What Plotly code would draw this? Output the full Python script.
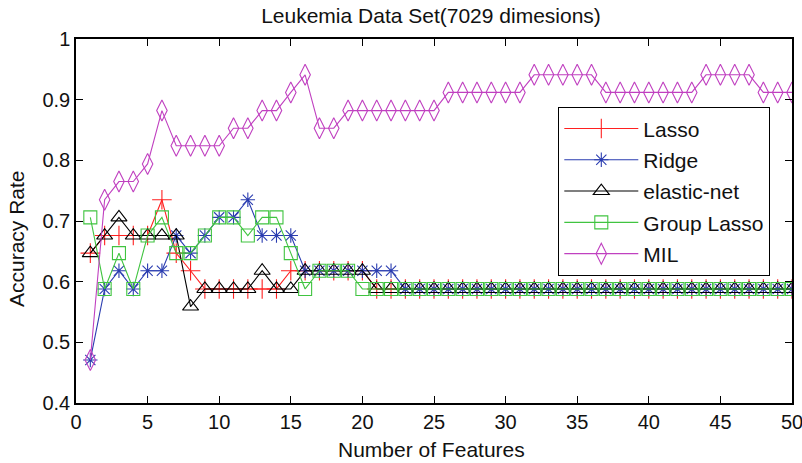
import plotly.graph_objects as go

features = list(range(1, 51))

lasso = [0.647, 0.676, 0.676, 0.676, 0.676, 0.735, 0.647, 0.618, 0.588, 0.588,
         0.588, 0.588, 0.588, 0.588, 0.618, 0.618, 0.618, 0.618, 0.618, 0.618] + [0.588] * 30

ridge = [0.471, 0.588, 0.618, 0.588, 0.618, 0.618, 0.676, 0.647, 0.676, 0.706,
         0.706, 0.735, 0.676, 0.676, 0.676, 0.618, 0.618, 0.618, 0.618, 0.618,
         0.618, 0.618] + [0.588] * 28

elastic = [0.647, 0.676, 0.706, 0.676, 0.676, 0.676, 0.676, 0.559, 0.588, 0.588,
           0.588, 0.588, 0.618, 0.588, 0.588, 0.618, 0.618, 0.618, 0.618, 0.618] + [0.588] * 30

group_lasso = [0.706, 0.588, 0.647, 0.588, 0.676, 0.706, 0.647, 0.647, 0.676, 0.706,
               0.706, 0.676, 0.706, 0.706, 0.647, 0.588, 0.618, 0.618, 0.618] + [0.588] * 31

mil = [0.471, 0.735, 0.765, 0.765, 0.794, 0.882, 0.824, 0.824, 0.824, 0.824,
       0.853, 0.853, 0.882, 0.882, 0.912, 0.941, 0.853, 0.853, 0.882, 0.882,
       0.882, 0.882, 0.882, 0.882, 0.882, 0.912, 0.912, 0.912, 0.912, 0.912,
       0.912, 0.941, 0.941, 0.941, 0.941, 0.941, 0.912, 0.912, 0.912, 0.912,
       0.912, 0.912, 0.912, 0.941, 0.941, 0.941, 0.941, 0.912, 0.912, 0.912]

x_ticks = [0, 5, 10, 15, 20, 25, 30, 35, 40, 45, 50]
y_ticks = [0.4, 0.5, 0.6, 0.7, 0.8, 0.9, 1.0]
y_tick_text = ["0.4", "0.5", "0.6", "0.7", "0.8", "0.9", "1"]

series = [
    ("Lasso", lasso, "#ff2020", "cross-thin-open", 14),
    ("Ridge", ridge, "#2a3cb0", "asterisk-open", 12),
    ("elastic-net", elastic, "#000000", "triangle-up-open", 14),
    ("Group Lasso", group_lasso, "#40c440", "square-open", 13),
    ("MIL", mil, "#c040c0", "diamond-tall-open", 15),
]

FONT = "Liberation Sans, Arial, sans-serif"
TXT = "#111111"

fig = go.Figure()
for name, vals, color, sym, size in series:
    fig.add_trace(go.Scatter(
        x=features, y=vals, name=name, mode="lines+markers",
        line=dict(color=color, width=1.1),
        marker=dict(symbol=sym, size=size, color=color, line=dict(color=color, width=1.1)),
        legendgroup=name,
    ))

L, R, T, B = 76, 10, 39, 60
PW, PH = 802 - L - R, 463 - T - B

fig.update_layout(
    width=802, height=463,
    margin=dict(l=L, r=R, t=T, b=B, autoexpand=False),
    paper_bgcolor="white", plot_bgcolor="white",
    font=dict(family=FONT, size=20, color=TXT),
    title=dict(text="Leukemia Data Set(7029 dimesions)", x=431 / 802, xanchor="center",
               y=1 - 16 / 463, yanchor="middle", yref="container",
               font=dict(family=FONT, size=21, color=TXT)),
    showlegend=True,
    legend=dict(x=(558 - L) / PW, y=(403 - 107) / PH, xanchor="left", yanchor="top",
                bordercolor="black", borderwidth=1.3, bgcolor="white",
                font=dict(family=FONT, size=21, color=TXT),
                itemwidth=74, tracegroupgap=1),
    annotations=[
        dict(text="Number of Features", xref="paper", yref="paper",
             x=(431 - L) / PW, y=(403 - 449) / PH, xanchor="center", yanchor="middle",
             showarrow=False, font=dict(family=FONT, size=21, color=TXT)),
        dict(text="Accuracy Rate", xref="paper", yref="paper",
             x=(16 - L) / PW, y=(403 - 239) / PH, xanchor="center", yanchor="middle",
             textangle=-90, showarrow=False, font=dict(family=FONT, size=21, color=TXT)),
    ],
)
fig.update_xaxes(
    range=[0, 50], tickvals=x_ticks, ticks="inside", ticklen=7, tickwidth=1.3,
    tickcolor="black", showline=True, linecolor="black", linewidth=1.5, mirror="ticks",
    showgrid=False, zeroline=False, automargin=False, ticklabeloverflow="allow",
)
fig.update_yaxes(
    range=[0.4, 1.0], tickvals=y_ticks, ticktext=y_tick_text, ticks="inside", ticklen=7,
    tickwidth=1.3, tickcolor="black", showline=True, linecolor="black", linewidth=1.5,
    mirror="ticks", showgrid=False, zeroline=False, automargin=False,
)

fig.write_html("out.html", config={"displayModeBar": False},
               post_script="document.body.style.margin='0';document.body.style.overflow='hidden';")
